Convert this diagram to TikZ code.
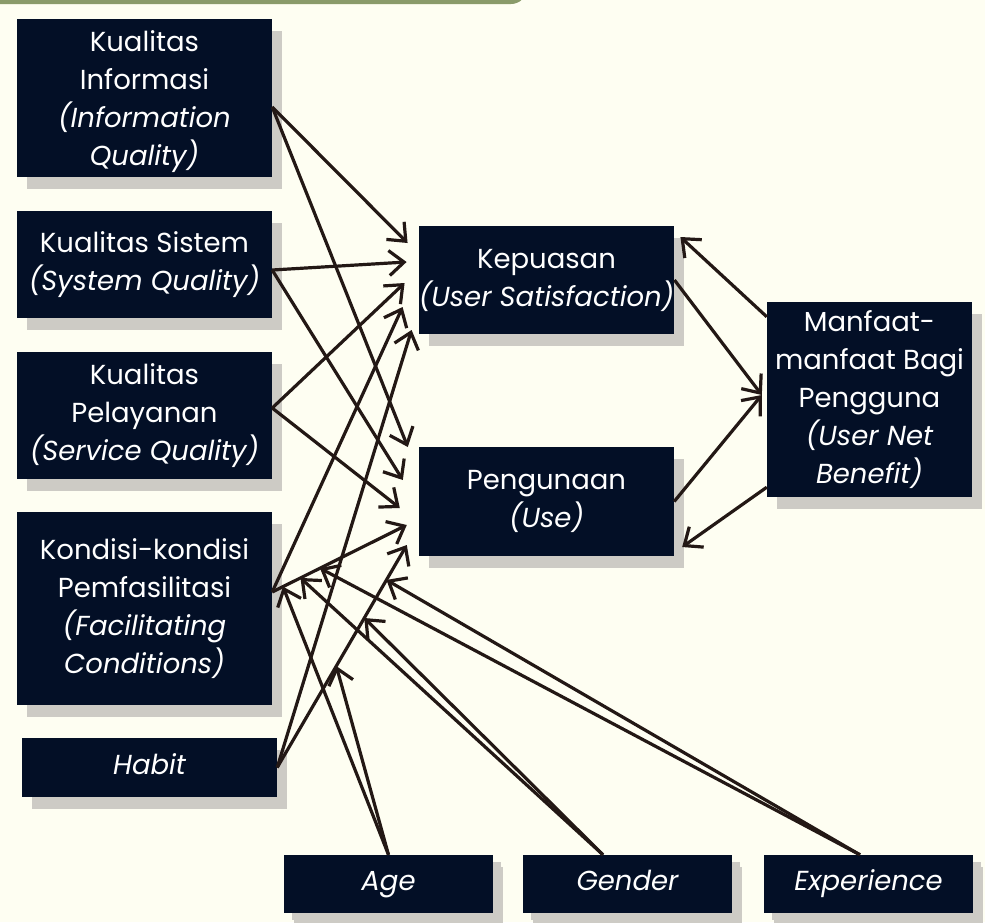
\documentclass[tikz,border=0pt]{standalone}
\usepackage{fontspec}
\setmainfont{Poppins}
\usetikzlibrary{arrows.meta,shadows}
\definecolor{bg}{HTML}{FEFEF2}
\definecolor{navy}{HTML}{030F26}
\definecolor{shade}{HTML}{CDCBC5}
\definecolor{topgreen}{HTML}{8A9B6A}
\definecolor{ink}{HTML}{231815}
\begin{document}
\begin{tikzpicture}[x=1pt,y=-1pt,
  box/.style={fill=navy, text=white, align=center, inner sep=0pt,
    font=\fontsize{27.5}{38}\selectfont,
    drop shadow={shadow xshift=10pt, shadow yshift=-12pt, fill=shade, opacity=1}},
  oneline/.style={text height=20pt, text depth=7pt},
  smallshadow/.style={drop shadow={shadow xshift=8pt, shadow yshift=-7pt, fill=shade, opacity=1}},
  link/.style={draw=ink, line width=3.2pt, -{Straight Barb[length=15pt,width=25pt]}},
]
\useasboundingbox (0,0) rectangle (985,922);
\fill[bg] (0,0) rectangle (985,922);
\fill[topgreen, rounded corners=16pt] (-30,-40) rectangle (527,4);

% left column
\node[box, minimum width=255pt, minimum height=158pt] (KI) at (144.5,98)
  {\rule{0pt}{28pt}Kualitas\\Informasi\\\itshape(Information\\\itshape Quality)};
\node[box, minimum width=255pt, minimum height=107pt] (KS) at (144.5,264.5)
  {Kualitas Sistem\\\itshape(System Quality)};
\node[box, minimum width=255pt, minimum height=127pt] (KP) at (144.5,415.5)
  {Kualitas\\Pelayanan\\\itshape(Service Quality)};
\node[box, minimum width=255pt, minimum height=193pt] (KK) at (144.5,608.5)
  {Kondisi-kondisi\\Pemfasilitasi\\\itshape(Facilitating\\\itshape Conditions)};
\node[box, oneline, minimum width=255pt, minimum height=59pt] (HB) at (149.5,767.5)
  {\itshape Habit};

% middle
\node[box, minimum width=255pt, minimum height=108pt] (KEP) at (546.5,280)
  {Kepuasan\\\itshape(User Satisfaction)};
\node[box, minimum width=255pt, minimum height=109pt] (PEN) at (546.5,501.5)
  {Pengunaan\\\itshape(Use)};

% right
\node[box, minimum width=205pt, minimum height=195pt] (MAN) at (869.5,399.5)
  {Manfaat-\\manfaat Bagi\\Pengguna\\\itshape(User Net\\\itshape Benefit)};

% moderators
\node[box, oneline, smallshadow, minimum width=209pt, minimum height=58pt] (AGE) at (388.5,884) {\itshape Age};
\node[box, oneline, smallshadow, minimum width=209pt, minimum height=58pt] (GEN) at (627.5,884) {\itshape Gender};
\node[box, oneline, smallshadow, minimum width=209pt, minimum height=58pt] (EXP) at (868.5,884) {\itshape Experience};

% links to Kepuasan
\draw[link] ([yshift=-9pt]KI.east) -- ([shift={(-11,-37)}]KEP.west);
\draw[link] ([yshift=-5.5pt]KS.east) -- ([shift={(-12,-18)}]KEP.west);
\draw[link] ([yshift=7.5pt]KP.east) -- ([shift={(-14,3)}]KEP.west);
\draw[link] ([yshift=16.5pt]KK.east) -- ([shift={(-16,27)}]KEP.west);
\draw[link] (HB.east) -- ([shift={(-7,50)}]KEP.west);

% links to Pengunaan
\draw[link] ([yshift=-9pt]KI.east) -- ([shift={(-11,-54.5)}]PEN.west);
\draw[link] ([yshift=-5.5pt]KS.east) -- ([shift={(-16,-21.5)}]PEN.west);
\draw[link] ([yshift=7.5pt]KP.east) -- ([shift={(-19,6.5)}]PEN.west);
\draw[link] ([yshift=16.5pt]KK.east) --
  coordinate[pos=0.08] (fa) coordinate[pos=0.21] (fg) coordinate[pos=0.355] (fe)
  ([shift={(-12,23.5)}]PEN.west);
\draw[link] (HB.east) --
  coordinate[pos=0.456] (ha) coordinate[pos=0.672] (hg) coordinate[pos=0.843] (he)
  ([shift={(-12,43.5)}]PEN.west);

% to / from benefit
\draw[link] (KEP.east) -- ([shift={(-5,-4.5)}]MAN.west);
\draw[link] (PEN.east) -- ([shift={(-5,-4.5)}]MAN.west);
\draw[link] ([yshift=-15pt]MAN.north west) -- ([shift={(6,-43)}]KEP.east);
\draw[link] ([yshift=10pt]MAN.south west) -- ([shift={(8,45.5)}]PEN.east);

% moderating effects
\draw[link] (AGE.north) -- (fa);
\draw[link] (AGE.north) -- (ha);
\draw[link] ([xshift=-24.5pt]GEN.north) -- (fg);
\draw[link] ([xshift=-24.5pt]GEN.north) -- (hg);
\draw[link] ([xshift=-8.5pt]EXP.north) -- (fe);
\draw[link] ([xshift=-8.5pt]EXP.north) -- (he);
\end{tikzpicture}
\end{document}
